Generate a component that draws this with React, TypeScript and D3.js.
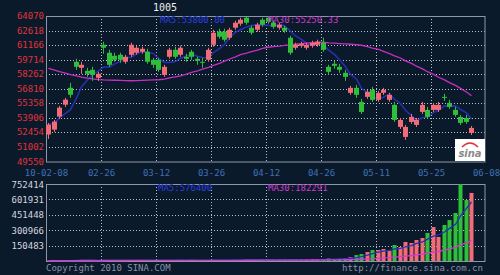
import React from "react";
import * as d3 from "d3";

const title = "1005";
const dateLabels = ["10-02-08", "02-26", "03-12", "03-26", "04-12", "04-26", "05-11", "05-25", "06-08"];
const priceTicks = [49550, 51002, 52454, 53906, 55358, 56810, 58262, 59714, 61166, 62618, 64070];
const volumeTicks = [150483, 300966, 451448, 601931, 752414];

const opens = [
  52240, 52730, 54030, 55220, 56910, 59500, 58900, 58600, 58700, 57900,
  61200, 60400, 60100, 60200, 59500, 60200, 60400, 60500, 60500, 59700,
  59700, 58200, 60000, 60700, 60200, 60000, 60500, 59800, 59500, 59700,
  61200, 62500, 62500, 61900, 62900, 63300, 63900, 62900, 62700, 63700,
  63900, 63400, 62900, 62900, 61900, 60900, 61100, 60900, 61100, 61200,
  61400, 59000, 59300, 59000, 58400, 56400, 56900, 55500, 56000, 56700,
  55700, 56400, 55700, 55200, 53000, 52000, 53500, 53200, 54500, 54700,
  54700, 54700, 56000, 55400, 54700, 54000, 53900, 52400,
];
const closes = [
  53230, 53530, 54920, 55720, 56210, 59000, 59200, 58300, 58200, 58300,
  60900, 59200, 59700, 59700, 60000, 61200, 60900, 60800, 59500, 59200,
  58700, 59000, 60700, 60000, 60900, 59800, 60000, 59600, 59400, 60700,
  62400, 62000, 61700, 62700, 63400, 63700, 63400, 62400, 63200, 63200,
  63500, 63000, 63200, 62600, 60400, 61200, 61300, 61200, 61400, 61500,
  60700, 58500, 59100, 58700, 58000, 56900, 56200, 54500, 56500, 55700,
  56400, 56700, 56200, 53700, 53700, 53000, 54000, 53700, 55200, 54000,
  55200, 55200, 55900, 55000, 54200, 53400, 53500, 52900,
];
const highs = [
  53400, 53700, 55100, 55900, 57400, 59800, 59500, 58900, 59000, 58500,
  61500, 60700, 60400, 60400, 60200, 61400, 61100, 61000, 60800, 59900,
  59900, 59200, 60900, 61000, 61100, 60300, 60700, 60000, 59900, 60900,
  62700, 62800, 62800, 62900, 63600, 63900, 64000, 63100, 63400, 63900,
  64050, 63600, 63400, 63100, 62100, 61400, 61500, 61400, 61600, 61700,
  61900, 59200, 59600, 59300, 58700, 57100, 57200, 55800, 56700, 57000,
  56600, 56900, 56400, 55500, 53900, 53200, 54300, 53900, 55500, 55000,
  55400, 55500, 56300, 55700, 55000, 54200, 54200, 53100,
];
const lows = [
  51800, 52500, 53800, 55000, 55900, 58700, 58300, 58000, 57600, 57600,
  60300, 59000, 59500, 59400, 59300, 60000, 60200, 60300, 59300, 58900,
  58500, 58000, 59800, 59800, 60000, 59500, 59700, 59200, 58900, 59500,
  61000, 61800, 61500, 61700, 62700, 63100, 63200, 62200, 62500, 63000,
  63300, 62800, 62700, 62400, 60200, 60700, 60900, 60700, 60900, 61000,
  60500, 58200, 58800, 58400, 57600, 56200, 55900, 54300, 55800, 55500,
  55500, 56200, 55500, 53500, 52800, 51700, 53300, 53000, 54300, 53800,
  54500, 54500, 55600, 54800, 54000, 53200, 53300, 52200,
];
const volumes = [
  4200, 3800, 5100, 4600, 3900, 6200, 4800, 5300, 4400, 3600,
  6800, 7200, 5100, 4700, 5600, 6900, 5200, 4300, 6100, 5800,
  7400, 6600, 8100, 7300, 6800, 5900, 7700, 6400, 5800, 8200,
  10400, 9300, 8800, 9900, 11200, 10600, 12100, 11500, 9800, 12800,
  11900, 10700, 9600, 11300, 16800, 12400, 10900, 11800, 12600, 13400,
  15900, 24800, 19600, 22300, 28700, 39000, 58000, 68000, 88000, 107000,
  107000, 117000, 100000, 156000, 137000, 186000, 176000, 205000, 225000, 274000,
  332000, 235000, 352000, 400000, 469000, 752000, 596000, 665000,
];
const ma30Price = [
  58840, 58680, 58520, 58380, 58230, 58090, 57980, 57870, 57790, 57730,
  57700, 57680, 57660, 57640, 57630, 57610, 57630, 57650, 57670, 57690,
  57710, 57780, 57890, 58000, 58100, 58270, 58440, 58600, 58770, 58950,
  59140, 59350, 59570, 59780, 59990, 60210, 60360, 60520, 60670, 60830,
  60950, 61010, 61060, 61130, 61190, 61250, 61300, 61360, 61410, 61460,
  61450, 61390, 61360, 61320, 61280, 61250, 61210, 61150, 61010, 60870,
  60730, 60540, 60320, 60100, 59880, 59600, 59340, 59060, 58790, 58510,
  58240, 57960, 57700, 57420, 57150, 56850, 56480, 56120,
];
const ma30PriceLabel = "MA30:55250.33";
const ma30VolLabel = "MA30:182291";

function movingAvg(arr: number[], n: number) {
  return arr.map((_, i) => {
    const s = Math.max(0, i - n + 1);
    const w = arr.slice(s, i + 1);
    return d3.mean(w) as number;
  });
}

const BG = "#0b1a2a";
const UP = "#f26b78";
const DOWN = "#2fbf3a";
const GRID = "#b8c0cc";
const MONO = "'DejaVu Sans Mono', 'Liberation Mono', monospace";

export default function App() {
  const W = 500, H = 275;
  const L = 46, R = 485.5;
  const pTop = 16, pBot = 161.5;
  const vTop = 184, vBot = 261;

  const x = d3.scaleLinear().domain([0, 80]).range([L, R]);
  const cx = (i: number) => Math.round(x(i + 0.4)) + 0.5;
  const y = d3.scaleLinear().domain([49550, 64070]).range([pBot, pTop]);
  const yv = d3.scaleLinear().domain([0, 752414]).range([vBot, vTop]);

  const ma5 = movingAvg(closes, 5);
  const vma5 = movingAvg(volumes, 5);
  const vma30 = movingAvg(volumes, 30);

  const line = d3.line<number>().x((_, i) => cx(i)).y((d) => y(d));
  const vline = d3.line<number>().x((_, i) => cx(i)).y((d) => yv(d));

  const gridXs = dateLabels.map((_, k) => Math.round(x(k * 10)) + 0.5);
  const ma5Label = "MA5:" + ma5[ma5.length - 1].toFixed(2);
  const vma5Label = "MA5:" + Math.round(vma5[vma5.length - 1]);

  return (
    <svg width={W} height={H} style={{ position: "fixed", left: 0, top: 0, background: BG }}>
      <rect x={0} y={0} width={W} height={H} fill={BG} />
      {/* price grid */}
      {priceTicks.map((t, k) => (
        <g key={"pt" + k}>
          {k > 0 && k < priceTicks.length - 1 && (
            <line x1={L} x2={R} y1={Math.round(y(t)) + 0.5} y2={Math.round(y(t)) + 0.5} stroke={GRID} strokeDasharray="1,2" strokeWidth={1} />
          )}
          <text x={44} y={y(t) + 3} textAnchor="end" fill="#e0323c" fontFamily={MONO} fontSize={9}>
            {t}
          </text>
        </g>
      ))}
      {gridXs.slice(1, -1).map((gx, k) => (
        <g key={"gx" + k}>
          <line x1={gx} x2={gx} y1={pTop} y2={pBot} stroke={GRID} strokeDasharray="1,2" />
          <line x1={gx} x2={gx} y1={vTop} y2={vBot} stroke={GRID} strokeDasharray="1,2" />
        </g>
      ))}
      {/* volume grid */}
      {volumeTicks.map((t, k) => (
        <g key={"vt" + k}>
          {k < volumeTicks.length - 1 && (
            <line x1={L} x2={R} y1={Math.round(yv(t)) + 0.5} y2={Math.round(yv(t)) + 0.5} stroke={GRID} strokeDasharray="1,2" />
          )}
          <text x={44} y={yv(t) + 3.5} textAnchor="end" fill="#d4d6de" fontFamily={MONO} fontSize={9}>
            {t}
          </text>
        </g>
      ))}
      {/* borders */}
      <rect x={L + 0.5} y={pTop + 0.5} width={R - L - 1} height={pBot - pTop} fill="none" stroke="#8d97a8" strokeWidth={1} />
      <rect x={L + 0.5} y={vTop + 0.5} width={R - L - 1} height={vBot - vTop} fill="none" stroke="#8d97a8" strokeWidth={1} />
      {/* date labels */}
      {dateLabels.map((d, k) => (
        <text key={"d" + k} x={gridXs[k]} y={176} textAnchor="middle" fill="#3f70b8" fontFamily={MONO} fontSize={9}>
          {d}
        </text>
      ))}
      {/* MA lines price */}
      <path d={line(ma5) || ""} fill="none" stroke="#2630b4" strokeWidth={1.5} />
      <path d={line(ma30Price) || ""} fill="none" stroke="#c42fc4" strokeWidth={1.3} />
      {/* candles */}
      {opens.map((o, i) => {
        const c = closes[i];
        const up = c >= o;
        const col = up ? UP : DOWN;
        const top = y(Math.max(o, c));
        const bot = y(Math.min(o, c));
        return (
          <g key={"c" + i}>
            <line x1={cx(i)} x2={cx(i)} y1={y(highs[i])} y2={y(lows[i])} stroke={col} strokeWidth={1} />
            <rect x={cx(i) - 2.5} y={top} width={5} height={Math.max(1, bot - top)} fill={col} />
          </g>
        );
      })}
      {/* volume bars */}
      {volumes.map((v, i) => {
        const up = closes[i] >= opens[i];
        const top = yv(v);
        return <rect key={"v" + i} x={cx(i) - 2} y={top} width={4} height={Math.max(0.8, vBot - top)} fill={up ? UP : DOWN} />;
      })}
      <path d={vline(vma5) || ""} fill="none" stroke="#2630b4" strokeWidth={1.3} />
      <path d={vline(vma30) || ""} fill="none" stroke="#d03ad0" strokeWidth={1.3} />
      {/* legends */}
      <text x={153} y={11} fill="#f0f0f0" fontFamily={MONO} fontSize={10}>{title}</text>
      <text x={160} y={23} fill="#2a3ee0" fontFamily={MONO} fontSize={9}>{ma5Label}</text>
      <text x={268} y={23} fill="#c83cc8" fontFamily={MONO} fontSize={9}>{ma30PriceLabel}</text>
      <text x={158} y={191} fill="#2a3ee0" fontFamily={MONO} fontSize={9}>{vma5Label}</text>
      <text x={268} y={191} fill="#c83cc8" fontFamily={MONO} fontSize={9}>{ma30VolLabel}</text>
      {/* sina logo */}
      <rect x={455} y={139} width={30} height={22} fill="#ffffff" />
      <path d="M462,147 Q470,139 478,147" fill="none" stroke="#e03040" strokeWidth={1.5} />
      <text x={470} y={157} textAnchor="middle" fill="#8a8a8a" fontFamily="'DejaVu Sans', sans-serif" fontStyle="italic" fontWeight="bold" fontSize={10}>sina</text>
      {/* footer */}
      <text x={46} y={271} fill="#8792a6" fontFamily={MONO} fontSize={9}>Copyright 2010 SINA.COM</text>
      <text x={342} y={271} fill="#8792a6" fontFamily={MONO} fontSize={9}>http://finance.sina.com.cn</text>
    </svg>
  );
}
